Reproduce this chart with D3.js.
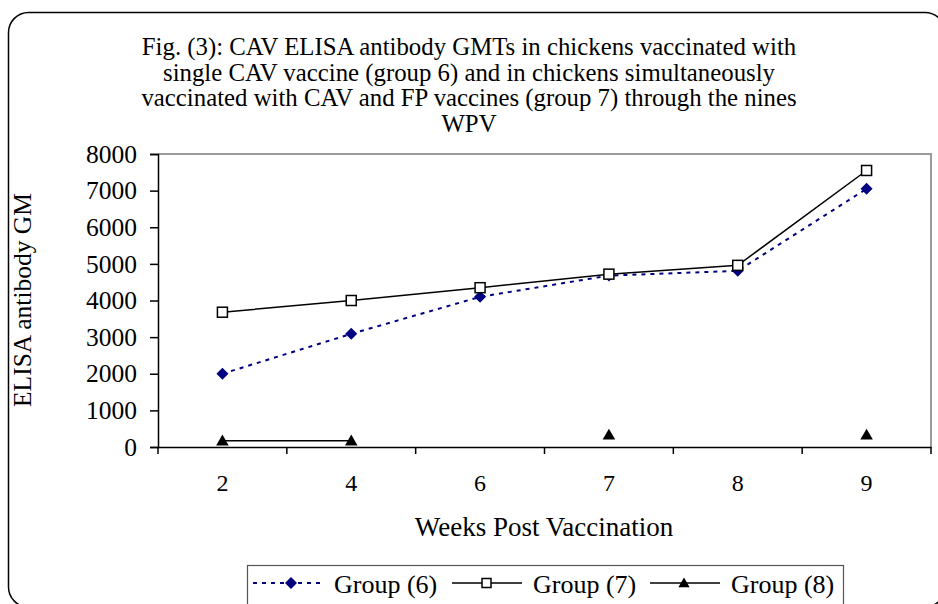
<!DOCTYPE html>
<html>
<head>
<meta charset="utf-8">
<script src="https://cdn.jsdelivr.net/npm/d3@7"></script>
<style>
  body { margin: 0; background: white; }
  svg { display: block; font-family: "Liberation Serif", "Times New Roman", serif; }
</style>
</head>
<body>
<svg id="chart" width="938" height="604"></svg>
<script>
  // data
  var weeks = ['2', '4', '6', '7', '8', '9']
  var group6 = [2000, 3090, 4100, 4680, 4810, 7050]
  var group7 = [3680, 4000, 4350, 4720, 4960, 7550]
  var group8 = [170, 170, null, 330, null, 330]
  var yTicks = [0, 1000, 2000, 3000, 4000, 5000, 6000, 7000, 8000]
  var titleLines = [
    'Fig. (3): CAV ELISA antibody GMTs in chickens vaccinated with',
    'single CAV vaccine (group 6) and in chickens simultaneously',
    'vaccinated with CAV and FP vaccines (group 7) through the nines',
    'WPV'
  ]
  var seriesNames = ['Group (6)', 'Group (7)', 'Group (8)']

  var svg = d3.select('#chart')

  // outer rounded frame
  svg.append('rect')
    .attr('x', 8.5).attr('y', 12.5)
    .attr('width', 936.5).attr('height', 594.5)
    .attr('rx', 20).attr('ry', 20)
    .attr('fill', 'white')
    .attr('stroke', 'black')
    .attr('stroke-width', 1.5)

  // title
  svg.append('g').selectAll('text')
    .data(titleLines)
    .enter().append('text')
    .attr('x', 469)
    .attr('y', function(d, i){ return 55 + i*25.7 })
    .attr('text-anchor', 'middle')
    .style('font-size', '24.8px')
    .text(function(d){ return d })

  var margin = {left: 158, top: 154, right: 931, bottom: 447}

  var x = d3.scaleBand().domain(weeks).range([margin.left, margin.right])
  var y = d3.scaleLinear().domain([0, 8000]).range([margin.bottom, margin.top])

  // plot frame top/right in grey
  svg.append('path')
    .attr('d', 'M' + margin.left + ',' + margin.top + 'H' + margin.right + 'V' + margin.bottom)
    .attr('fill', 'none')
    .attr('stroke', '#9a9a9a')
    .attr('stroke-width', 2)

  // axes
  var yAxis = svg.append('g')
    .attr('transform', 'translate(' + margin.left + ',0)')
    .call(d3.axisLeft(y).tickValues(yTicks).tickSize(8).tickPadding(13).tickFormat(d3.format('d')))
  yAxis.selectAll('text').style('font-size', '25.5px').style('font-family', 'Liberation Serif').attr('fill', 'black')
  yAxis.selectAll('line, path').attr('stroke', 'black').attr('stroke-width', 1.5)

  var xAxis = svg.append('g')
    .attr('transform', 'translate(0,' + margin.bottom + ')')
    .call(d3.axisBottom(x).tickSize(0))
  xAxis.select('.domain').attr('stroke', 'black').attr('stroke-width', 1.5)
  xAxis.selectAll('text')
    .attr('y', 44).attr('dy', null)
    .style('font-size', '24px').style('font-family', 'Liberation Serif').attr('fill', 'black')
  xAxis.selectAll('.tick line').remove()

  // category separator ticks
  var edges = weeks.map(function(w){ return x(w) }).concat([x.range()[1]])
  svg.append('g').selectAll('line')
    .data(edges)
    .enter().append('line')
    .attr('x1', function(d){ return d }).attr('x2', function(d){ return d })
    .attr('y1', margin.bottom).attr('y2', margin.bottom + 7)
    .attr('stroke', 'black').attr('stroke-width', 1.5)

  // axis titles
  svg.append('text')
    .attr('x', 544)
    .attr('y', 536)
    .attr('text-anchor', 'middle')
    .style('font-size', '27px')
    .text('Weeks Post Vaccination')

  svg.append('text')
    .attr('transform', 'translate(31,300) rotate(-90)')
    .attr('text-anchor', 'middle')
    .style('font-size', '25.5px')
    .text('ELISA antibody GM')

  var cx = function(i){ return x(weeks[i]) + x.bandwidth()/2 }
  var line = d3.line()
    .defined(function(d){ return d != null })
    .x(function(d, i){ return cx(i) })
    .y(function(d){ return y(d) })

  var navy = '#000080'
  var diamond = function(r){ return 'M0,' + (-r) + 'L' + r + ',0L0,' + r + 'L' + (-r) + ',0Z' }

  // group 8
  svg.append('path').datum(group8)
    .attr('d', line).attr('fill', 'none').attr('stroke', 'black').attr('stroke-width', 1.5)
  svg.append('g').selectAll('path')
    .data(group8.map(function(v, i){ return {v: v, i: i} }).filter(function(d){ return d.v != null }))
    .enter().append('path')
    .attr('d', d3.symbol().type(d3.symbolTriangle).size(68))
    .attr('transform', function(d){ return 'translate(' + cx(d.i) + ',' + (y(d.v) + 1) + ')' })
    .attr('fill', 'black')

  // group 6
  svg.append('path').datum(group6)
    .attr('d', line).attr('fill', 'none').attr('stroke', navy).attr('stroke-width', 2)
    .attr('stroke-dasharray', '4,5')
  svg.append('g').selectAll('path')
    .data(group6)
    .enter().append('path')
    .attr('d', diamond(6))
    .attr('transform', function(d, i){ return 'translate(' + cx(i) + ',' + y(d) + ')' })
    .attr('fill', navy)

  // group 7
  svg.append('path').datum(group7)
    .attr('d', line).attr('fill', 'none').attr('stroke', 'black').attr('stroke-width', 1.5)
  svg.append('g').selectAll('rect')
    .data(group7)
    .enter().append('rect')
    .attr('x', function(d, i){ return cx(i) - 5 })
    .attr('y', function(d){ return y(d) - 5 })
    .attr('width', 10).attr('height', 10)
    .attr('fill', 'white').attr('stroke', 'black').attr('stroke-width', 1.5)

  // legend
  var legend = svg.append('g')
  legend.append('rect')
    .attr('x', 247.5).attr('y', 565.5).attr('width', 596).attr('height', 50)
    .attr('fill', 'white').attr('stroke', '#555').attr('stroke-width', 1.2)

  var legendX = [253, 452, 650]
  var legendY = 583
  seriesNames.forEach(function(name, k){
    var lx = legendX[k]
    var item = legend.append('g')
    item.append('line')
      .attr('x1', lx).attr('x2', lx + 70)
      .attr('y1', legendY).attr('y2', legendY)
      .attr('stroke', k == 0 ? navy : 'black')
      .attr('stroke-width', k == 0 ? 2 : 1.5)
      .attr('stroke-dasharray', k == 0 ? '4,5' : null)
    if(k == 0){
      item.append('path').attr('d', diamond(6))
        .attr('transform', 'translate(' + (lx + 38) + ',' + legendY + ')').attr('fill', navy)
    }else if(k == 1){
      item.append('rect').attr('x', lx + 30).attr('y', legendY - 4.5).attr('width', 9).attr('height', 9)
        .attr('fill', 'white').attr('stroke', 'black').attr('stroke-width', 1.5)
    }else{
      item.append('path').attr('d', d3.symbol().type(d3.symbolTriangle).size(55))
        .attr('transform', 'translate(' + (lx + 34) + ',' + (legendY + 1) + ')').attr('fill', 'black')
    }
    item.append('text')
      .attr('x', lx + 81).attr('y', 593)
      .style('font-size', '26px')
      .text(name)
  })
</script>
</body>
</html>
